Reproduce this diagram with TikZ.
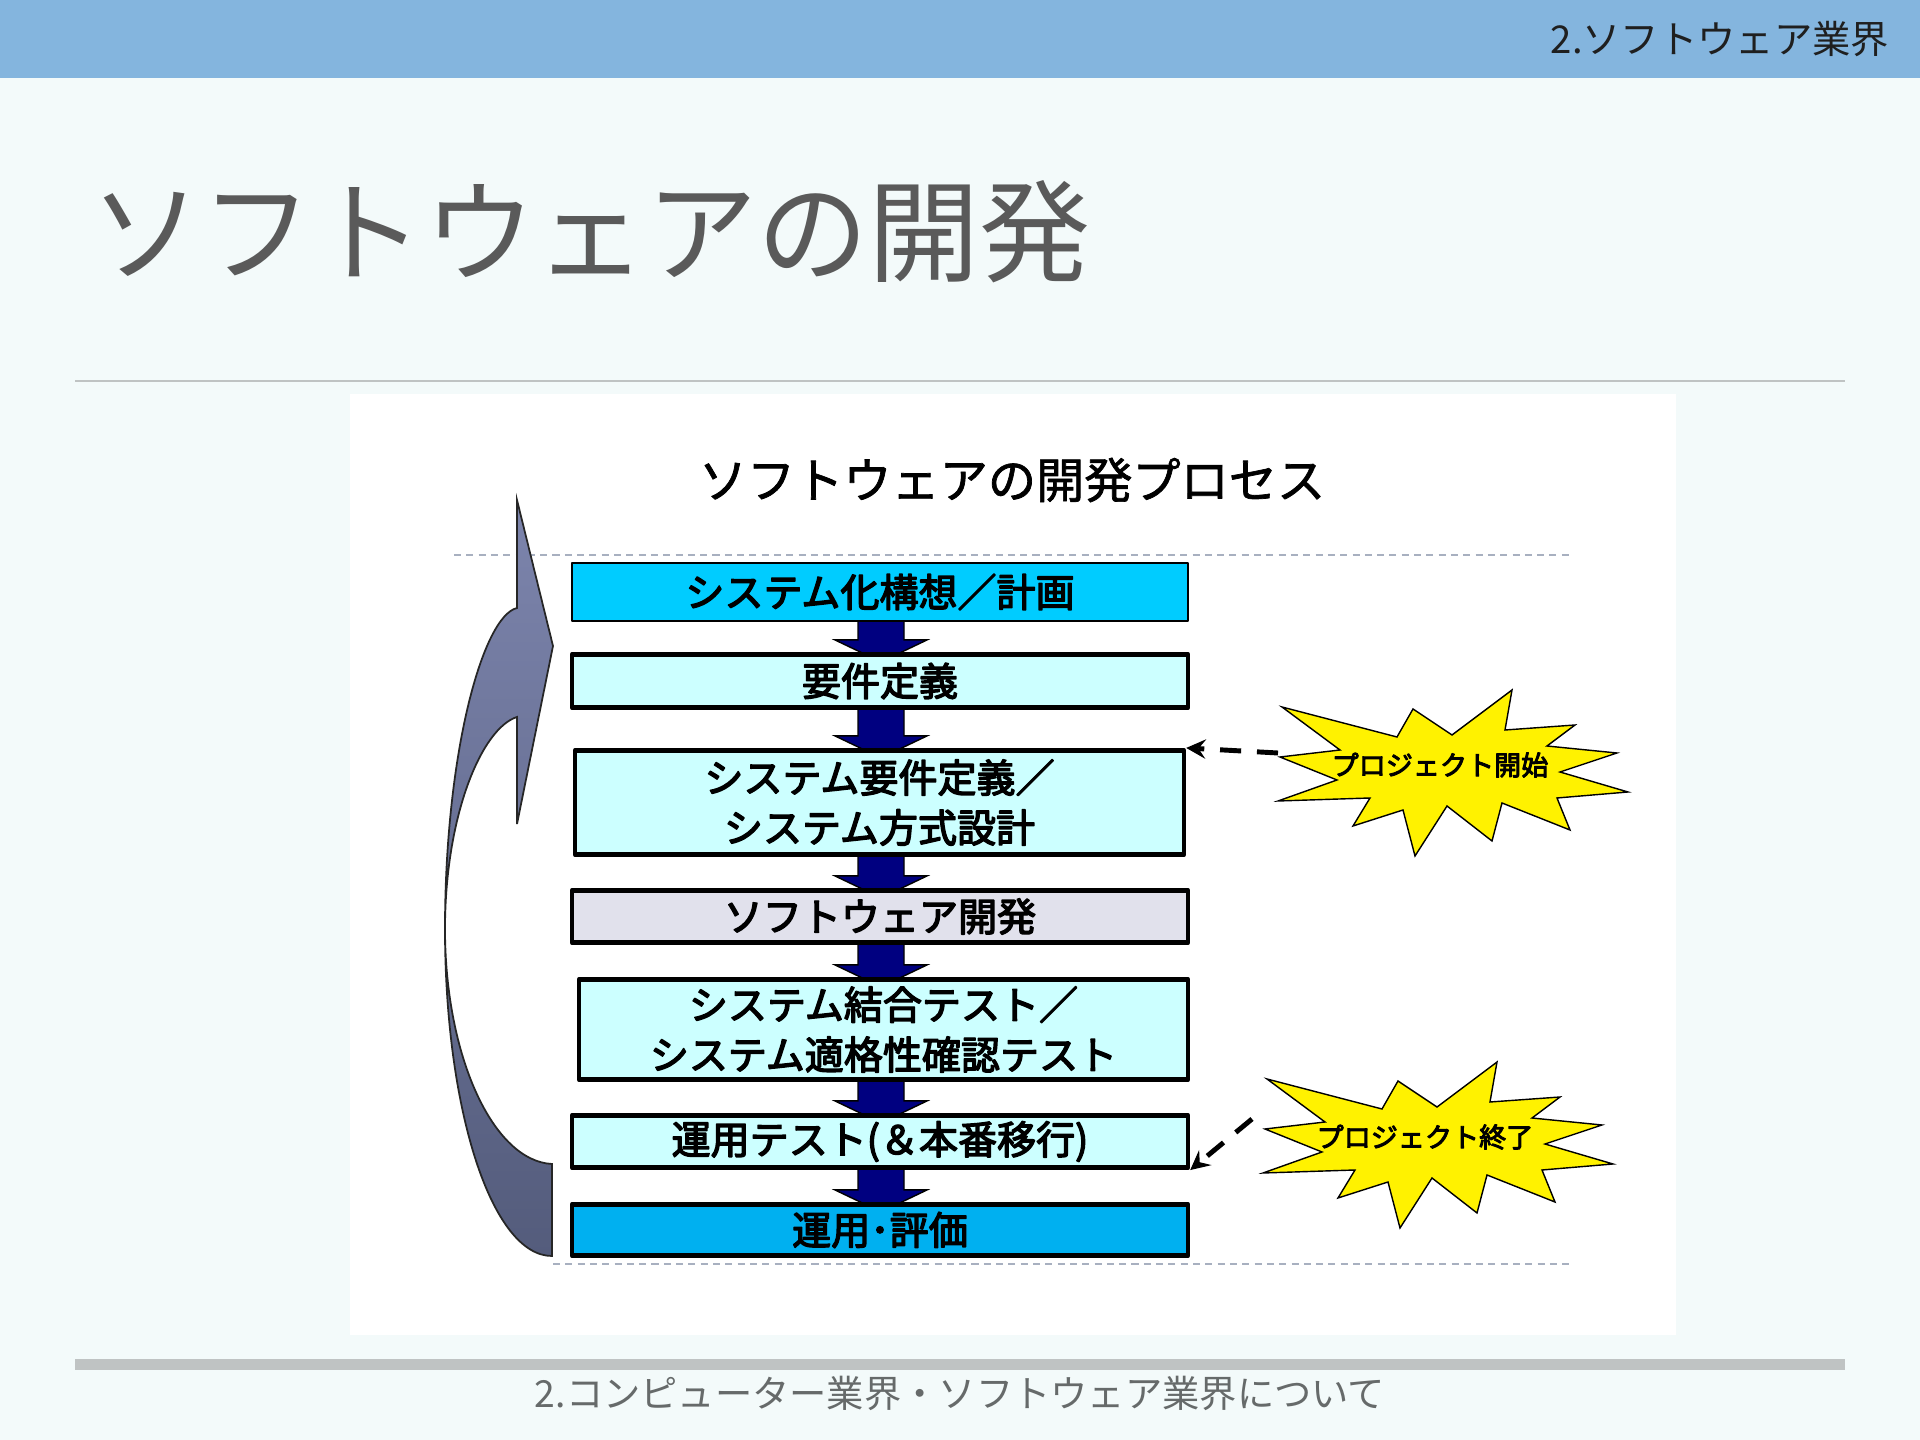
\documentclass[tikz,border=0pt]{standalone}
\usepackage{fontspec}
\setmainfont{Noto Sans CJK JP}
\newfontfamily\chudam[FakeBold=3.5]{Noto Sans CJK JP}
\newfontfamily\chuvua[FakeBold=1.5]{Noto Sans CJK JP}
\usetikzlibrary{calc}
\pgfdeclarelayer{nen}
\pgfdeclarelayer{giua}
\pgfsetlayers{nen,giua,main}

\definecolor{nenmau}{HTML}{F3FAFA}
\definecolor{thanh}{HTML}{84B5DE}
\definecolor{chuxam}{HTML}{5A5A5A}
\definecolor{chanxam}{HTML}{666A6A}
\definecolor{vach}{HTML}{BFC3C3}
\definecolor{gachmau}{HTML}{A8B0C0}
\definecolor{xanhdam}{HTML}{00CCFF}
\definecolor{xanhnhat}{HTML}{CCFFFF}
\definecolor{tim}{HTML}{E1E1EC}
\definecolor{xanhcuoi}{HTML}{00B0F0}
\definecolor{navy}{HTML}{000080}
\definecolor{cungtren}{HTML}{7C84AC}
\definecolor{cungduoi}{HTML}{545C7C}

\begin{document}
\begin{tikzpicture}[x=0.01cm, y=-0.01cm, line cap=round, line join=round, >=stealth,
		hop/.style={draw=black, line width=1.3pt, minimum width=6.155cm, inner sep=0pt, align=center,
			font=\fontsize{11.1}{14.2}\selectfont\chudam},
		sao/.style={fill=yellow, draw=black, line width=0.4pt, line join=miter},
		chusao/.style={inner sep=0pt, font=\fontsize{7.7}{9}\selectfont\chudam},
		noidut/.style={->, line width=1.4pt, dash pattern=on 6pt off 4.5pt, line cap=butt},
		gachxam/.style={gachmau, line width=0.5pt, dash pattern=on 2pt off 1.5pt},
		muiten/.style={fill=navy, draw=black, line width=0.4pt, line join=miter}]
	\useasboundingbox (0,0) rectangle (1920,1440);
	
	% Nền trang chiếu
	\begin{pgfonlayer}{nen}
		\fill[nenmau] (0,0) rectangle (1920,1440);
		\fill[thanh] (0,0) rectangle (1920,78);
		\draw[vach, line width=0.6pt] (75,381) -- (1845,381);
		\fill[white] (350,394) rectangle (1676,1335);
		\fill[vach] (75,1359) rectangle (1845,1370);
		\draw[gachxam] (454,555) -- (1573,555);
		\draw[gachxam] (553,1264) -- (1573,1264);
	\end{pgfonlayer}
	
	% Tiêu đề
	\node[anchor=east, inner sep=0pt, font=\fontsize{10.9}{13}\selectfont, text=black!88] (dau) at (1890,39) {2.ソフトウェア業界};
	\node[anchor=west, inner sep=0pt, font=\fontsize{31.6}{36}\selectfont, text=chuxam] (tieude) at (90,232) {ソフトウェアの開発};
	\node[inner sep=0pt, font=\fontsize{10.6}{12}\selectfont, text=chanxam] (chan) at (960,1393) {2.コンピューター業界・ソフトウェア業界について};
	\node[inner sep=0pt, font=\fontsize{13.7}{16}\selectfont\chuvua] (phude) at (1012,480) {ソフトウェアの開発プロセス};
	
	% Mũi tên cong bên trái
	\shadedraw[top color=cungtren, bottom color=cungduoi, draw=black!85, line width=0.5pt, line join=miter]
		(517,500) -- (553,646) -- (517,824) -- (517,717)
		.. controls (482,728) and (445,815) .. (445,929)
		.. controls (445,1056) and (493,1161) .. (552,1164)
		-- (552,1256)
		.. controls (492,1256) and (445,1111) .. (445,929)
		.. controls (445,752) and (483,616) .. (517,608) -- cycle;
	
	% Các bước
	\node[hop, fill=xanhdam, line width=0.6pt, minimum height=0.58cm] (s1) at (880,592) {システム化構想／計画};
	\node[hop, fill=xanhnhat, minimum height=0.535cm] (s2) at (880,681) {要件定義};
	\node[hop, fill=xanhnhat, minimum width=6.085cm, minimum height=1.045cm] (s3) at (879.5,802.5) {システム要件定義／\\システム方式設計};
	\node[hop, fill=tim, minimum height=0.525cm] (s4) at (880,916.5) {ソフトウェア開発};
	\node[hop, fill=xanhnhat, minimum width=6.085cm, minimum height=1.005cm] (s5) at (883.5,1029.5) {システム結合テスト／\\システム適格性確認テスト};
	\node[hop, fill=xanhnhat, minimum height=0.525cm] (s6) at (880,1141.5) {運用テスト(＆本番移行)};
	\node[hop, fill=xanhcuoi, minimum height=0.515cm] (s7) at (880,1230) {運用･評価};
	
	% Mũi tên khối giữa các bước
	\coordinate (mid) at (881,0);
	\begin{pgfonlayer}{giua}
		\foreach \a/\b in {s1/s2, s2/s3, s3/s4, s4/s5, s5/s6, s6/s7} {
			\filldraw[muiten] ($(mid |- \a.south)+(-23,-4)$) -- ($(mid |- \b.north)+(-23,-12)$) -- ($(mid |- \b.north)+(-46,-12)$)
				-- ($(mid |- \b.north)+(0,10)$) -- ($(mid |- \b.north)+(46,-12)$) -- ($(mid |- \b.north)+(23,-12)$)
				-- ($(mid |- \a.south)+(23,-4)$) -- cycle;
		}
	\end{pgfonlayer}
	
	% Hình nổ và chữ
	\foreach \cx/\cy/\ten/\chu in {1440/765/st1/プロジェクト開始, 1425/1137/st2/プロジェクト終了} {
		\filldraw[sao, shift={(\cx,\cy)}] (-158,-58) -- (-43,-28) -- (-27,-56) -- (12,-30) -- (72,-75) -- (65,-35)
			-- (135,-40) -- (107,-19) -- (177,-12) -- (120,7) -- (188,27) -- (117,33) -- (130,65) -- (62,38)
			-- (52,76) -- (7,41) -- (-25,91) -- (-37,45) -- (-87,61) -- (-70,33) -- (-162,36) -- (-103,15)
			-- (-160,-8) -- (-100,-15) -- cycle;
		\node[chusao] (\ten) at (\cx,\cy) {\chu};
	}
	
	% Mũi tên nét đứt
	\coordinate (st1l) at (1278,753);
	\coordinate (st2l) at (1252,1119);
	\draw[noidut] (st1l) -- (s3.north east);
	\draw[noidut] (st2l) -- (s6.south east);
\end{tikzpicture}
\end{document}
